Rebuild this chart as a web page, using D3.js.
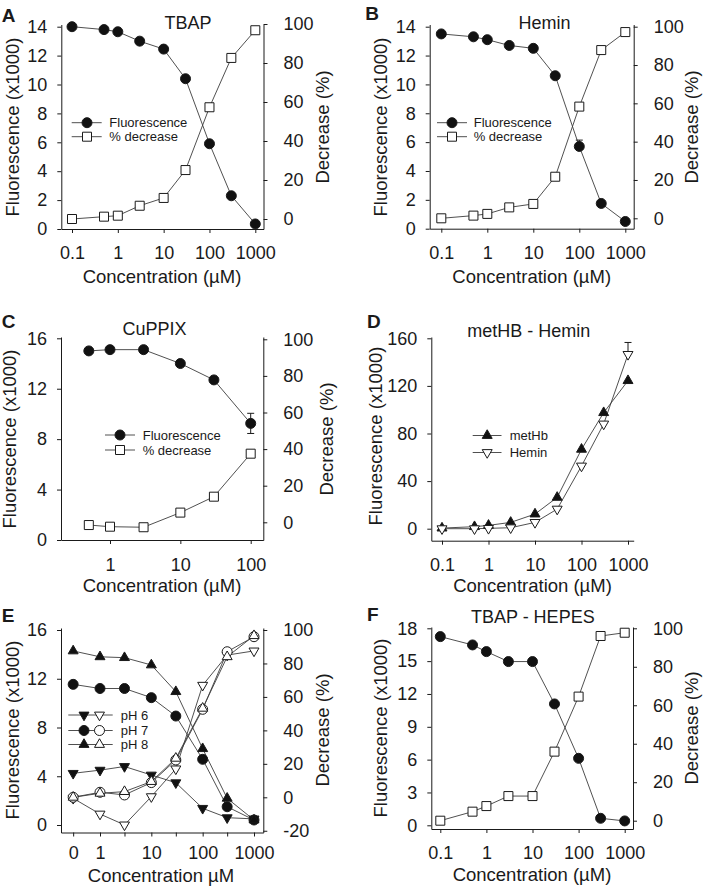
<!DOCTYPE html>
<html><head><meta charset="utf-8">
<script src="https://cdn.jsdelivr.net/npm/d3@7"></script>
<style>
body{margin:0;background:#fff;}
svg text{font-family:'Liberation Sans',Arial,Helvetica,sans-serif;fill:#1a1a1a;}
</style></head><body>
<svg id="fig" width="703" height="891"></svg>
<script>
// ---------------- DATA ----------------
const concStd = [0.1, 0.5, 1, 3, 10, 30, 100, 300, 1000];
const concC   = [0.5, 1, 3, 10, 30, 100];
const concE   = [0, 1, 3, 10, 30, 100, 300, 1000];

const fluorA = [14.0, 13.8, 13.65, 13.0, 12.45, 10.4, 5.9, 2.3, 0.35];
const decA   = [0, 1.2, 1.7, 6.8, 10.8, 25.1, 57.3, 82.6, 96.8];

const fluorB = [13.5, 13.3, 13.1, 12.7, 12.5, 10.6, 5.7, 1.75, 0.5];
const fluorBErr = [0, 0, 0, 0, 0, 0, 0.44, 0, 0];
const decB   = [0, 1.4, 2.3, 5.7, 7.5, 21.7, 58.3, 87.8, 97.2];

const fluorC = [15.0, 15.1, 15.1, 14.0, 12.7, 9.25];
const fluorCErr = [0, 0, 0, 0, 0, 0.8];
const decC   = [-1.5, -2.4, -2.7, 5.3, 14.0, 37.5];

const metHbD = [0.5, 1.7, 2.8, 5.3, 12.3, 26.3, 66.7, 97.5, 124.4];
const heminD = [0, 0, 0.3, 0.8, 5.3, 16.5, 52.7, 88, 146.5];
const heminDErr = [0, 0, 0, 0, 0, 0, 0, 0, 10];

const fluorE6 = [4.24, 4.5, 4.8, 4.1, 3.47, 1.37, 0.6, 0.5];
const fluorE7 = [11.54, 11.2, 11.2, 10.45, 8.94, 5.39, 1.5, 0.41];
const fluorE8 = [14.28, 13.8, 13.73, 13.13, 10.94, 6.26, 2.19, 0.41];
const decE6   = [-0.6, -10, -16.5, 0.4, 17, 67, 85, 87.5];
const decE7   = [0, 3, 1.4, 8.8, 22.3, 52.6, 87, 96];
const decE8   = [0, 2.4, 3.4, 9.4, 23.3, 53.2, 84, 96.6];

const fluorF = [17.24, 16.48, 15.87, 14.96, 14.96, 11.09, 6.12, 0.64, 0.4];
const decF   = [0, 4.7, 7.6, 12.8, 12.8, 35.9, 64.5, 96, 97.7];

const xTicksStd  = [0.1, 1, 10, 100, 1000];
const xLabelsStd = ["0.1", "1", "10", "100", "1000"];
const xTicksC    = [1, 10, 100];
const xLabelsC   = ["1", "10", "100"];
const xTicksE    = [0, 1, 3, 10, 30, 100, 300, 1000];
const xLabelsE   = ["0", "1", "", "10", "", "100", "", "1000"];
const yTicks14   = [0, 2, 4, 6, 8, 10, 12, 14];
const yTicks16   = [0, 4, 8, 12, 16];
const yTicks160  = [0, 40, 80, 120, 160];
const yTicks18   = [0, 3, 6, 9, 12, 15, 18];
const decTicks   = [0, 20, 40, 60, 80, 100];
const decTicksE  = [-20, 0, 20, 40, 60, 80, 100];
const zeroConcPos = 0.3; // where "0" concentration is placed on the log axis in E

// ---------------- LAYOUT ----------------
const FONT_TICK = 18, FONT_TITLE = 18.5, FONT_HEAD = 18, FONT_LEG = 13;
const legStd = (rowYs, lineX, mx, tx) => ({rows:[
  {y:rowYs[0], label:'Fluorescence', syms:[['circle',true,mx]]},
  {y:rowYs[1], label:'% decrease', syms:[['square',false,mx]]}], lineX, tx});

const panels = [
 {letter:'A', lp:[1.7,21.7], title:'TBAP', tp:[188,29.3],
  box:{l:61.3,r:263.5,t:24.5,b:229}, xa:[0.1,72,1000,255.3], yla:[0,229,14,26.7], yra:[0,219,100,24],
  xt:xTicksStd, xl:xLabelsStd, ylt:yTicks14, yrt:decTicks, xpad:13.5,
  ylTitle:[19,127], yrTitle:[329,127], xTitle:[162,282.7], xTitleText:'Concentration (µM)',
  series:[{c:concStd,v:fluorA,side:'L',sym:'circle',fill:true},{c:concStd,v:decA,side:'R',sym:'square',fill:false}],
  legend:legStd([122.7,136.7],[71.7,101.7],87,109.3)},
 {letter:'B', lp:[365.3,20], title:'Hemin', tp:[544.5,29.3],
  box:{l:429.7,r:633.7,t:24.5,b:228.7}, xa:[0.1,441.3,1000,625.3], yla:[0,228.7,14,26.7], yra:[0,218.3,100,26.7],
  xt:xTicksStd, xl:xLabelsStd, ylt:yTicks14, yrt:decTicks, xpad:13.5,
  ylTitle:[387,127], yrTitle:[698,127], xTitle:[531.7,282.7], xTitleText:'Concentration (µM)',
  series:[{c:concStd,v:fluorB,err:fluorBErr,errUp:true,side:'L',sym:'circle',fill:true},{c:concStd,v:decB,side:'R',sym:'square',fill:false}],
  legend:legStd([122.7,136.7],[437,467],452,473.7)},
 {letter:'C', lp:[1.7,328.3], title:'CuPPIX', tp:[154.5,335],
  box:{l:61,r:263.3,t:337,b:540}, xa:[1,110,100,250.7], yla:[0,540,16,338.3], yra:[0,522.3,100,339.3],
  xt:xTicksC, xl:xLabelsC, ylt:yTicks16, yrt:decTicks, xpad:14,
  ylTitle:[16,439], yrTitle:[333,439], xTitle:[162,592], xTitleText:'Concentration (µM)',
  series:[{c:concC,v:fluorC,err:fluorCErr,side:'L',sym:'circle',fill:true},{c:concC,v:decC,side:'R',sym:'square',fill:false}],
  legend:legStd([435,450],[105,135],120,142.7)},
 {letter:'D', lp:[367,328.3], title:'metHB - Hemin', tp:[528.7,336.7],
  box:{l:431.3,r:633.7,t:337,b:540.7}, xa:[0.1,442,1000,628], yla:[0,528.7,160,338.3], yra:null,
  xt:xTicksStd, xl:xLabelsStd, ylt:yTicks160, yrt:null, xpad:13.5,
  ylTitle:[382,436], yrTitle:null, xTitle:[532.5,592], xTitleText:'Concentration (µM)',
  series:[{c:concStd,v:metHbD,side:'L',sym:'triUp',fill:true},{c:concStd,v:heminD,err:heminDErr,errUp:true,side:'L',sym:'triDown',fill:false}],
  legend:{rows:[{y:435.5,label:'metHb',syms:[['triUp',true,487.2]]},{y:452.5,label:'Hemin',syms:[['triDown',false,487.2]]}],lineX:[472.7,501.5],tx:509.7}},
 {letter:'E', lp:[1.7,621.7], title:null,
  box:{l:61,r:263.3,t:628,b:832.5}, xa:[1,100,1000,254], yla:[0,825,16,630], yra:[0,797.3,100,630],
  xt:xTicksE, xl:xLabelsE, ylt:yTicks16, yrt:decTicksE, zeroPos:zeroConcPos, xpad:10,
  ylTitle:[19,730], yrTitle:[329,730], xTitle:[161,881.5], xTitleText:'Concentration µM',
  series:[
   {c:concE,v:fluorE6,side:'L',sym:'triDown',fill:true},
   {c:concE,v:fluorE7,side:'L',sym:'circle',fill:true},
   {c:concE,v:fluorE8,side:'L',sym:'triUp',fill:true},
   {c:concE,v:decE6,side:'R',sym:'triDown',fill:false},
   {c:concE,v:decE7,side:'R',sym:'circle',fill:false},
   {c:concE,v:decE8,side:'R',sym:'triUp',fill:false}],
  legend:{rows:[
   {y:715,label:'pH 6',syms:[['triDown',true,84],['triDown',false,99.5]]},
   {y:730.5,label:'pH 7',syms:[['circle',true,84],['circle',false,99.5]]},
   {y:744.5,label:'pH 8',syms:[['triUp',true,84],['triUp',false,99.5]]}],lineX:[68.3,112.7],tx:120.7}},
 {letter:'F', lp:[367,620.5], title:'TBAP - HEPES', tp:[532.8,623.3],
  box:{l:431.3,r:633,t:627,b:829}, xa:[0.1,440.3,1000,624.7], yla:[0,825.3,18,628.3], yra:[0,820.7,100,628.3],
  xt:xTicksStd, xl:xLabelsStd, ylt:yTicks18, yrt:decTicks, xpad:13.5,
  ylTitle:[387,728], yrTitle:[698,728], xTitle:[532,881], xTitleText:'Concentration (µM)',
  series:[{c:concStd,v:fluorF,side:'L',sym:'circle',fill:true},{c:concStd,v:decF,side:'R',sym:'square',fill:false}],
  legend:null}
];

// ---------------- DRAW ----------------
const svg = d3.select('#fig');
svg.append('rect').attr('width',703).attr('height',891).attr('fill','#fff');
const INK = '#1a1a1a', LINE = '#3c3c3c';
const symArea = {circle:78.5, square:81, triUp:43, triDown:43};

function logScale(a, lo, hi){
  const s = d3.scaleLog().domain([a[0],a[2]]).range([a[1],a[3]]);
  return d3.scaleLog().domain([s.invert(lo), s.invert(hi)]).range([lo,hi]);
}
function linScale(a, bottom, top){
  const s = d3.scaleLinear().domain([a[0],a[2]]).range([a[1],a[3]]);
  return d3.scaleLinear().domain([s.invert(bottom), s.invert(top)]).range([bottom,top]);
}
function symPath(type){
  const t = (type==='circle')?d3.symbolCircle:(type==='square')?d3.symbolSquare:d3.symbolTriangle;
  return d3.symbol().type(t).size(symArea[type])();
}
function drawSym(g, type, filled, x, y){
  g.append('path').attr('d', symPath(type))
   .attr('transform', `translate(${x},${y})` + (type==='triDown' ? ' rotate(180)' : ''))
   .attr('fill', filled ? '#111' : '#fff').attr('stroke', INK).attr('stroke-width', 1);
}
function styleAxis(g){
  g.attr('font-size', FONT_TICK).attr('font-family', "'Liberation Sans',Arial,sans-serif");
  g.select('.domain').attr('stroke', INK).attr('stroke-width', 1);
  g.selectAll('.tick line').attr('stroke', INK).attr('stroke-width', 1);
  g.selectAll('.tick text').attr('fill', INK);
}

panels.forEach(p => {
  const g = svg.append('g');
  const B = p.box;
  const x = logScale(p.xa, B.l, B.r);
  const yL = linScale(p.yla, B.b, B.t);
  const yR = p.yra ? linScale(p.yra, B.b, B.t) : null;
  const cx = c => x(c === 0 ? p.zeroPos : c);

  // axes
  const xTickPos = p.xt.map(c => c === 0 ? p.zeroPos : c);
  const xAx = d3.axisBottom(x).tickValues(xTickPos).tickSize(4).tickSizeOuter(0).tickPadding(p.xpad)
     .tickFormat((d,i) => p.xl[i]);
  styleAxis(g.append('g').attr('transform', `translate(0,${B.b})`).call(xAx));
  const yAx = d3.axisLeft(yL).tickValues(p.ylt).tickSize(4).tickSizeOuter(0).tickPadding(10).tickFormat(d => String(d));
  styleAxis(g.append('g').attr('transform', `translate(${B.l},0)`).call(yAx));
  if (yR){
    const yRAx = d3.axisRight(yR).tickValues(p.yrt).tickSize(4).tickSizeOuter(0).tickPadding(16).tickFormat(d => String(d));
    styleAxis(g.append('g').attr('transform', `translate(${B.r},0)`).call(yRAx));
  }

  // texts
  g.append('text').attr('x', p.lp[0]).attr('y', p.lp[1]).attr('font-size', 19).attr('font-weight', 'bold').text(p.letter);
  if (p.title) g.append('text').attr('x', p.tp[0]).attr('y', p.tp[1]).attr('font-size', FONT_HEAD).attr('text-anchor','middle').text(p.title);
  g.append('text').attr('transform', `translate(${p.ylTitle[0]},${p.ylTitle[1]}) rotate(-90)`)
    .attr('font-size', FONT_TITLE).attr('text-anchor','middle').text('Fluorescence (x1000)');
  if (p.yrTitle) g.append('text').attr('transform', `translate(${p.yrTitle[0]},${p.yrTitle[1]}) rotate(-90)`)
    .attr('font-size', FONT_TITLE).attr('text-anchor','middle').text('Decrease (%)');
  g.append('text').attr('x', p.xTitle[0]).attr('y', p.xTitle[1]).attr('font-size', FONT_TITLE)
    .attr('text-anchor','middle').text(p.xTitleText);

  // lines
  p.series.forEach(s => {
    const ys = s.side === 'L' ? yL : yR;
    const pts = s.c.map((c,i) => [cx(c), ys(s.v[i])]);
    g.append('path').attr('d', d3.line()(pts)).attr('fill','none').attr('stroke', LINE).attr('stroke-width', 0.9);
  });
  // error bars
  p.series.forEach(s => {
    if (!s.err) return;
    const ys = s.side === 'L' ? yL : yR;
    s.c.forEach((c,i) => {
      const e = s.err[i]; if (!e) return;
      const xx = cx(c), top = ys(s.v[i] + e), bot = s.errUp ? ys(s.v[i]) : ys(s.v[i] - e);
      g.append('line').attr('x1',xx).attr('x2',xx).attr('y1',top).attr('y2',bot).attr('stroke',INK);
      g.append('line').attr('x1',xx-3.5).attr('x2',xx+3.5).attr('y1',top).attr('y2',top).attr('stroke',INK);
      if (!s.errUp) g.append('line').attr('x1',xx-3.5).attr('x2',xx+3.5).attr('y1',bot).attr('y2',bot).attr('stroke',INK);
    });
  });
  // markers
  p.series.forEach(s => {
    const ys = s.side === 'L' ? yL : yR;
    s.c.forEach((c,i) => drawSym(g, s.sym, s.fill, cx(c), ys(s.v[i])));
  });

  // legend
  if (p.legend){
    const L = p.legend;
    L.rows.forEach(r => {
      g.append('line').attr('x1', L.lineX[0]).attr('x2', L.lineX[1]).attr('y1', r.y).attr('y2', r.y)
        .attr('stroke', LINE).attr('stroke-width', 0.9);
      r.syms.forEach(sy => drawSym(g, sy[0], sy[1], sy[2], r.y));
      g.append('text').attr('x', L.tx).attr('y', r.y).attr('dy','0.36em').attr('font-size', FONT_LEG).text(r.label);
    });
  }
});
</script>
</body></html>
